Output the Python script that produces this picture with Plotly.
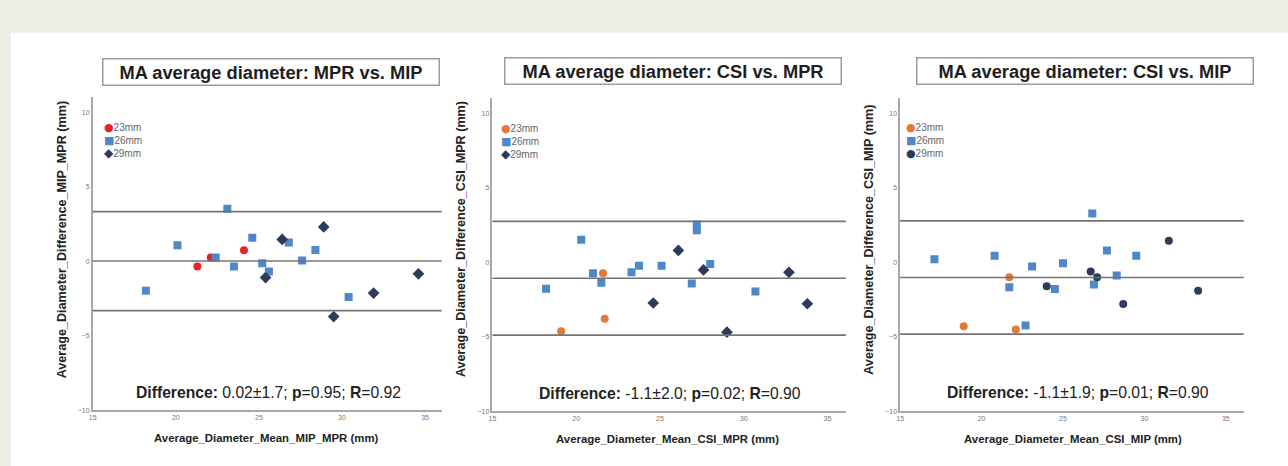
import plotly.graph_objects as go

W, H = 1288, 466

# ---------------- data ----------------
groups = ["23mm", "26mm", "29mm"]

# Panel 1: MPR vs MIP
p1_23_x = [21.3, 22.1, 24.1]
p1_23_y = [-0.35, 0.25, 0.75]
p1_26_x = [18.2, 20.1, 23.1, 22.4, 23.5, 24.6, 25.2, 25.6, 26.8, 27.6, 28.4, 30.4]
p1_26_y = [-1.98, 1.07, 3.53, 0.25, -0.35, 1.58, -0.13, -0.69, 1.27, 0.05, 0.76, -2.4]
p1_29_x = [26.4, 25.4, 28.9, 29.5, 31.9, 34.6]
p1_29_y = [1.47, -1.09, 2.31, -3.71, -2.13, -0.84]

# Panel 2: CSI vs MPR
p2_23_x = [19.1, 21.6, 21.7]
p2_23_y = [-4.62, -0.73, -3.78]
p2_26_x = [18.2, 20.3, 21.0, 21.5, 23.3, 23.75, 25.1, 26.9, 27.2, 27.2, 28.0, 30.7]
p2_26_y = [-1.78, 1.51, -0.73, -1.38, -0.67, -0.24, -0.24, -1.42, 2.15, 2.53, -0.11, -1.96]
p2_29_x = [24.6, 26.1, 27.6, 29.0, 32.7, 33.8]
p2_29_y = [-2.73, 0.8, -0.51, -4.69, -0.67, -2.78]

# Panel 3: CSI vs MIP
p3_23_x = [18.9, 21.7, 22.1]
p3_23_y = [-4.29, -1.0, -4.51]
p3_26_x = [17.1, 20.8, 21.7, 23.1, 22.7, 24.5, 25.0, 26.8, 26.9, 27.7, 28.3, 29.5]
p3_26_y = [0.2, 0.44, -1.67, -0.29, -4.24, -1.8, -0.07, 3.27, -1.49, 0.8, -0.89, 0.44]
p3_29_x = [24.0, 26.7, 27.1, 28.7, 31.5, 33.3]
p3_29_y = [-1.6, -0.62, -1.0, -2.8, 1.44, -1.91]

# Limits of agreement: upper, mean, lower
p1_lines = [3.33, 0.02, -3.31]
p2_lines = [2.75, -1.07, -4.89]
p3_lines = [2.78, -1.02, -4.82]

titles = ["MA average diameter: MPR vs. MIP",
          "MA average diameter: CSI vs. MPR",
          "MA average diameter: CSI vs. MIP"]
stats = ["<b>Difference:</b> 0.02±1.7; <b>p</b>=0.95; <b>R</b>=0.92",
         "<b>Difference:</b> -1.1±2.0; <b>p</b>=0.02; <b>R</b>=0.90",
         "<b>Difference:</b> -1.1±1.9; <b>p</b>=0.01; <b>R</b>=0.90"]
xtitles = ["Average_Diameter_Mean_MIP_MPR (mm)",
           "Average_Diameter_Mean_CSI_MPR (mm)",
           "Average_Diameter_Mean_CSI_MIP (mm)"]
ytitles = ["Average_Diameter_Difference_MIP_MPR (mm)",
           "Average_Diameter_Difference_CSI_MPR (mm)",
           "Average_Diameter_Difference_CSI_MIP (mm)"]
x_ticks = [15, 20, 25, 30, 35]
y_ticks = [-10, -5, 0, 5, 10]

# ---------------- styles ----------------
RED = "#E5232B"
ORANGE = "#E27A36"
BLUE = "#4E88C9"
NAVY = "#2C3A5C"
LINE = "#737373"
AXIS = "#a8a8a8"
BEIGE = "#EFEEE5"
FONT = "Liberation Sans, Arial, sans-serif"
GLYPH = {"circle": "●", "square": "■", "diamond": "◆"}
GLYPH_SIZE = {"circle": 11, "square": 11, "diamond": 12}

panels = [
    dict(data=[(p1_23_x, p1_23_y), (p1_26_x, p1_26_y), (p1_29_x, p1_29_y)],
         colors=[RED, BLUE, NAVY], symbols=["circle", "square", "diamond"],
         lines=p1_lines, xpx=(89, 89 + 21 * 16.67), ypx=(413, 98), xr=[15, 36],
         title_c=(268, 72), stat_c=(265, 395), xt_c=(263, 441), yt_x=59,
         leg=(98, 120)),
    dict(data=[(p2_23_x, p2_23_y), (p2_26_x, p2_26_y), (p2_29_x, p2_29_y)],
         colors=[ORANGE, BLUE, NAVY], symbols=["circle", "square", "diamond"],
         lines=p2_lines, xpx=(490, 490 + 21.1 * 16.8), ypx=(414, 99), xr=[15, 36.1],
         title_c=(671, 71.5), stat_c=(668, 396), xt_c=(666, 442), yt_x=459,
         leg=(497, 121)),
    dict(data=[(p3_23_x, p3_23_y), (p3_26_x, p3_26_y), (p3_29_x, p3_29_y)],
         colors=[ORANGE, BLUE, NAVY], symbols=["circle", "square", "circle"],
         lines=p3_lines, xpx=(899, 899 + 21.1 * 16.33), ypx=(414, 99), xr=[15, 36.1],
         title_c=(1084.5, 71.5), stat_c=(1077, 395), xt_c=(1072, 442), yt_x=868,
         leg=(903, 120)),
]

fig = go.Figure()
annotations = []
shapes = []
layout = {}

# beige page frame (top band + left strip) around a white card
shapes.append(dict(type="rect", xref="paper", yref="paper",
                   x0=-0.01, x1=1.01, y0=1 - 33 / H, y1=1.01,
                   fillcolor=BEIGE, line=dict(width=0), layer="below"))
shapes.append(dict(type="rect", xref="paper", yref="paper",
                   x0=-0.01, x1=7 / W, y0=-0.01, y1=1.01,
                   fillcolor=BEIGE, line=dict(width=0), layer="below"))

for i, p in enumerate(panels):
    n = "" if i == 0 else str(i + 1)
    xa, ya = "x" + n, "y" + n
    for g, (xs, ys), c, s in zip(groups, p["data"], p["colors"], p["symbols"]):
        size = 9 if s == "diamond" else 8
        fig.add_trace(go.Scatter(x=xs, y=ys, mode="markers", name=g,
                                 xaxis=xa, yaxis=ya, showlegend=False,
                                 marker=dict(color=c, symbol=s, size=size,
                                             line=dict(width=0))))
    x0, x1 = p["xpx"]
    yb, yt = p["ypx"]
    layout["xaxis" + n] = dict(domain=[x0 / W, x1 / W], range=p["xr"], anchor=ya,
                               showline=True, linecolor=AXIS, linewidth=1.5,
                               showgrid=False, zeroline=False, ticks="",
                               tickvals=x_ticks, tickfont=dict(size=7, color="#777"),
                               fixedrange=True)
    layout["yaxis" + n] = dict(domain=[1 - yb / H, 1 - yt / H], range=[-10, 11], anchor=xa,
                               showline=True, linecolor=AXIS, linewidth=1.5,
                               showgrid=False, zeroline=False, ticks="",
                               tickvals=y_ticks, tickfont=dict(size=7, color="#777"),
                               fixedrange=True)
    # compact legend (text key)
    rows = []
    for g, c, s in zip(groups, p["colors"], p["symbols"]):
        rows.append('<span style="color:%s;font-family:DejaVu Sans;font-size:%dpx">%s</span>%s'
                    % (c, GLYPH_SIZE[s], GLYPH[s], g))
    lx, ly = p["leg"]
    annotations.append(dict(text="<br>".join(rows), xref="paper", yref="paper",
                            x=lx / W, y=1 - ly / H, xanchor="left", yanchor="top",
                            align="left", showarrow=False,
                            font=dict(size=10, color="#666", family=FONT)))
    for v in p["lines"]:
        shapes.append(dict(type="line", xref=xa + " domain", yref=ya,
                           x0=0, x1=1, y0=v, y1=v,
                           line=dict(color=LINE, width=1.7)))
    tx, ty = p["title_c"]
    annotations.append(dict(text="<b>" + titles[i] + "</b>", xref="paper", yref="paper",
                            x=tx / W, y=1 - ty / H, xanchor="center", yanchor="middle",
                            showarrow=False, width=333, height=23, borderpad=1,
                            bordercolor="#9c9c9c", borderwidth=1.5, bgcolor="white",
                            font=dict(size=18.3, color="#1e1e1e", family=FONT)))
    sx, sy = p["stat_c"]
    annotations.append(dict(text=stats[i], xref="paper", yref="paper",
                            x=sx / W, y=1 - sy / H, xanchor="center", yanchor="middle",
                            showarrow=False, font=dict(size=15.7, color="#222", family=FONT)))
    xx, xy = p["xt_c"]
    annotations.append(dict(text="<b>" + xtitles[i] + "</b>", xref="paper", yref="paper",
                            x=xx / W, y=1 - xy / H, xanchor="center", yanchor="middle",
                            showarrow=False, font=dict(size=11.4, color="#222", family=FONT)))
    annotations.append(dict(text="<b>" + ytitles[i] + "</b>", xref="paper", yref="paper",
                            x=p["yt_x"] / W, y=1 - 241 / H, xanchor="center", yanchor="middle",
                            textangle=-90, showarrow=False,
                            font=dict(size=12.6, color="#222", family=FONT)))

fig.update_layout(width=W, height=H, margin=dict(l=0, r=0, t=0, b=0),
                  paper_bgcolor="white", plot_bgcolor="rgba(0,0,0,0)",
                  font=dict(family=FONT), showlegend=False,
                  annotations=annotations, shapes=shapes, **layout)

fig.write_html("out.html")
